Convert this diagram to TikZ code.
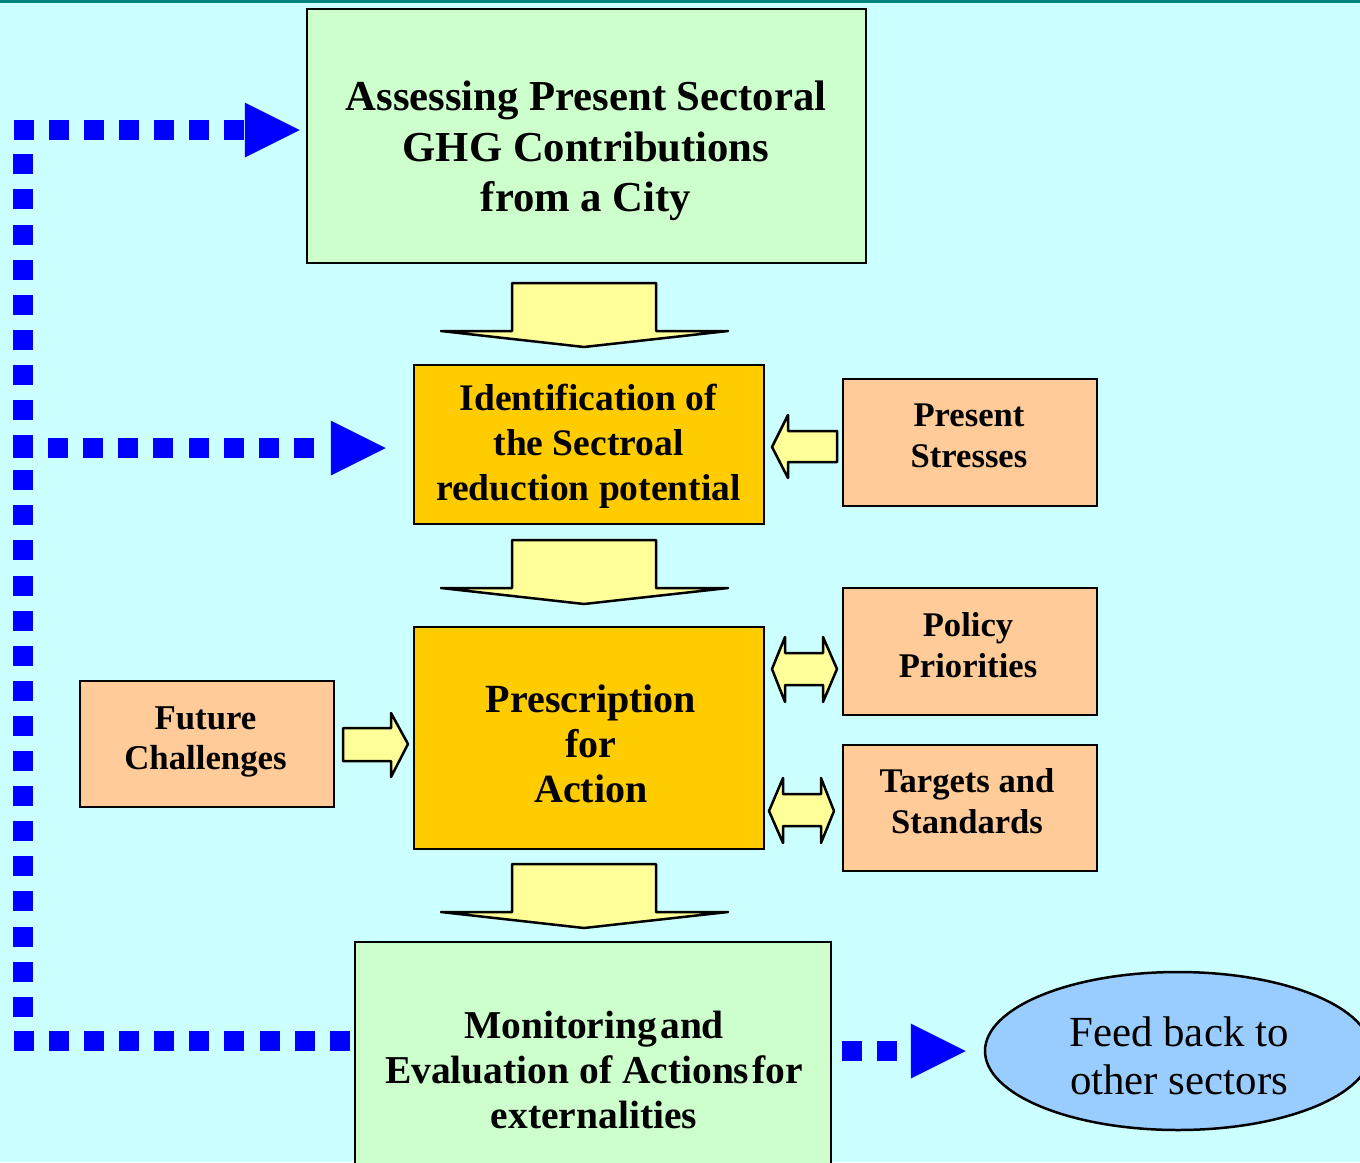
\documentclass[tikz,border=0pt]{standalone}
\usepackage{fontspec}
\setmainfont{Liberation Serif}
\usetikzlibrary{arrows.meta,shapes.geometric}
\definecolor{bgc}{HTML}{CCFFFF}
\definecolor{topc}{HTML}{008080}
\definecolor{greenbox}{HTML}{CCFFCC}
\definecolor{orangebox}{HTML}{FFCC00}
\definecolor{peachbox}{HTML}{FFCC99}
\definecolor{arrowyellow}{HTML}{FFFF99}
\definecolor{ellblue}{HTML}{99CCFF}
\definecolor{dotblue}{HTML}{0000FF}
\newcommand\mydownarr[2]{%
  \draw[blockarr] (#1-72,#2) -- (#1+72,#2) -- (#1+72,#2+48) -- (#1+144,#2+48)
    -- (#1,#2+64) -- (#1-143,#2+48) -- (#1-72,#2+48) -- cycle;}
\begin{document}
\begin{tikzpicture}[x=1pt,y=-1pt,
  box/.style={draw=black, line width=2.5pt, rectangle, inner sep=0pt},
  txt/.style={align=center, inner sep=0pt, text=black},
  bigtxt/.style={txt, font=\bfseries\fontsize{42.7}{50.7}\selectfont},
  midtxt/.style={txt, font=\bfseries\fontsize{40}{45}\selectfont},
  montxt/.style={txt, font=\bfseries\fontsize{39.5}{45}\selectfont},
  idtxt/.style={txt, font=\bfseries\fontsize{37.5}{45}\selectfont},
  smalltxt/.style={txt, font=\bfseries\fontsize{34.6}{41.5}\selectfont},
  blockarr/.style={draw=black, fill=arrowyellow, line width=2.5pt, line join=round},
  dots/.style={draw=dotblue, line width=20pt, line cap=rect,
    dash pattern=on 0.01pt off 35.09pt,
    -{Triangle[length=55pt,width=55pt,line width=0pt]}}]
\useasboundingbox (0,0) rectangle (1360,1162);
\clip (0,0) rectangle (1360,1162);
\fill[bgc] (0,0) rectangle (1360,1162);
\fill[topc] (0,0) rectangle (1360,3);

% boxes
\node[box, fill=greenbox, minimum width=559pt, minimum height=254pt] (assess) at (586.5,136) {};
\node[box, fill=orangebox, minimum width=350pt, minimum height=159pt] (ident) at (589,444.5) {};
\node[box, fill=peachbox, minimum width=254pt, minimum height=127pt] (stress) at (970,442.5) {};
\node[box, fill=peachbox, minimum width=254pt, minimum height=127pt] (policy) at (970,651.5) {};
\node[box, fill=peachbox, minimum width=254pt, minimum height=126pt] (targets) at (970,808) {};
\node[box, fill=orangebox, minimum width=350pt, minimum height=222pt] (presc) at (589,738) {};
\node[box, fill=peachbox, minimum width=254pt, minimum height=126pt] (future) at (207,744) {};
\node[box, fill=greenbox, minimum width=476pt, minimum height=248pt] (mon) at (593,1066) {};
\node[draw=black, line width=2.5pt, fill=ellblue, ellipse, inner sep=0pt,
      minimum width=386pt, minimum height=158pt] (feed) at (1178,1051) {};

% texts
\node[bigtxt] (assessT) at (586,151) {Assessing Present Sectoral\\GHG Contributions\\from a City};
\node[idtxt] (identT) at (588.5,446.5) {Identification of\\the Sectroal\\reduction potential};
\node[midtxt] (prescT) at (591,743.5) {Prescription\\for\\Action};
\node[smalltxt] (stressT) at (969,436) {Present\\Stresses};
\node[smalltxt] (policyT) at (968,645) {Policy\\Priorities};
\node[smalltxt] (targetsT) at (967,801) {Targets and\\Standards};
\node[smalltxt, font=\bfseries\fontsize{34.8}{40.5}\selectfont] (futureT) at (205.5,742) {Future\\Challenges};
\node[montxt] (monT) at (594,1069.5) {Monitoring\hspace{-0.17em} and\\Evaluation of Actions\hspace{-0.17em} for\\externalities};
\node[txt, font=\fontsize{42.9}{48}\selectfont] (feedT) at (1179,1056) {Feed back to\\other sectors};

% block arrows
\mydownarr{584}{283}
\mydownarr{584}{540}
\mydownarr{584}{864}
\draw[blockarr] (837,431) -- (837,462) -- (788,462) -- (788,478) -- (772,447)
  -- (788,415) -- (788,431) -- cycle;
\draw[blockarr] (772,669) -- (785,637) -- (785,653) -- (823,653) -- (823,637)
  -- (837,669) -- (823,702) -- (823,685) -- (785,685) -- (785,702) -- cycle;
\draw[blockarr] (769,811) -- (783,778) -- (783,794) -- (821,794) -- (821,778)
  -- (834,811) -- (821,843) -- (821,826) -- (783,826) -- (783,843) -- cycle;
\draw[blockarr] (343,728) -- (391,728) -- (391,713) -- (408,744) -- (391,777)
  -- (391,761) -- (343,761) -- cycle;

% dotted feedback connectors
\coordinate (c1) at (23,1041);
\coordinate (c2) at (23,130);
\coordinate (c3) at (23,448);
\coordinate (c4) at (0,1051);
\draw[dots, shorten <=14pt, shorten >=6pt] (mon.west |- c1) -- (c1) -- (c2) -- (assess.west |- c2);
\draw[dots, shorten >=27pt] (c3) -- (ident.west |- c3);
\draw[dots, shorten <=20pt, shorten >=18pt] (mon.east |- c4) -- (feed.west |- c4);
\end{tikzpicture}
\end{document}
